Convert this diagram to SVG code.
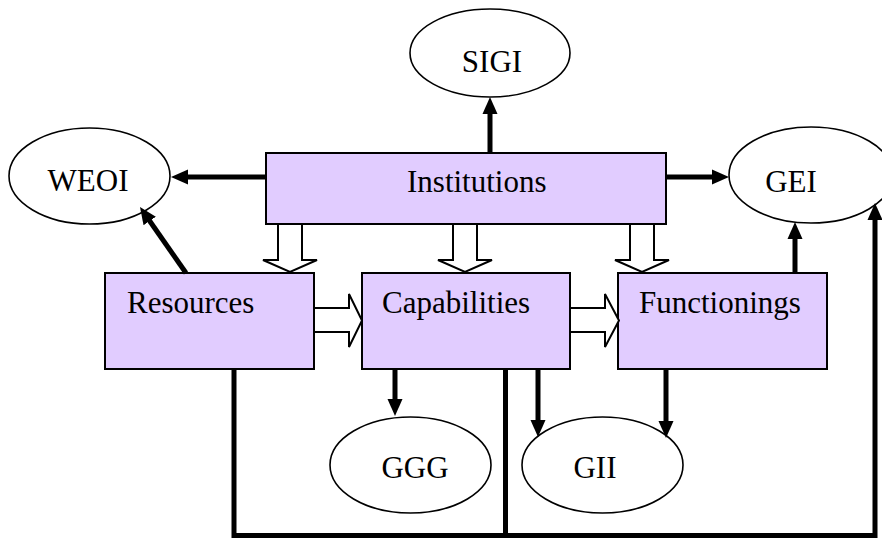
<svg xmlns="http://www.w3.org/2000/svg" width="882" height="539" viewBox="0 0 882 539">
<style>
.box{fill:#e1ccff;stroke:#000;stroke-width:2}
.ell{fill:#fff;stroke:#000;stroke-width:1.6}
.lbl{font-family:"Liberation Serif","Times New Roman",serif;font-size:31px;fill:#000}
.mid{text-anchor:middle}
.thick{fill:none;stroke:#000;stroke-width:5}
.hollow{fill:#fff;stroke:#000;stroke-width:2;stroke-linejoin:miter}
</style>
<defs>
<marker id="ah" markerUnits="userSpaceOnUse" markerWidth="18" markerHeight="16" refX="7" refY="7.5" orient="auto" viewBox="0 0 18 15">
<path d="M0,0 L17,7.5 L0,15 z" fill="#000"/>
</marker>
</defs>
<g id="node-sigi"><ellipse class="ell" cx="490" cy="53" rx="80" ry="44"/><text class="lbl mid" x="492" y="72">SIGI</text></g>
<g id="node-weoi"><ellipse class="ell" cx="89.5" cy="176" rx="80.5" ry="48"/><text class="lbl mid" x="88" y="191">WEOI</text></g>
<g id="node-gei"><ellipse class="ell" cx="811" cy="175" rx="82" ry="48"/><text class="lbl mid" x="791" y="192">GEI</text></g>
<g id="node-ggg"><ellipse class="ell" cx="410.5" cy="465" rx="80.5" ry="48"/><text class="lbl mid" x="415" y="478">GGG</text></g>
<g id="node-gii"><ellipse class="ell" cx="602.5" cy="465" rx="80.5" ry="48"/><text class="lbl mid" x="595" y="478">GII</text></g>
<g id="node-institutions"><rect class="box" x="266" y="153" width="400" height="71"/><text class="lbl" x="407" y="192">Institutions</text></g>
<g id="node-resources"><rect class="box" x="105" y="273" width="209" height="96"/><text class="lbl" x="127" y="313">Resources</text></g>
<g id="node-capabilities"><rect class="box" x="362" y="273" width="208" height="96"/><text class="lbl" x="382" y="313">Capabilities</text></g>
<g id="node-functionings"><rect class="box" x="618" y="273" width="209" height="96"/><text class="lbl" x="639" y="313">Functionings</text></g>
<g id="connectors">
<polygon class="hollow" points="278,224 278,260 263,260 290,272 317,260 302,260 302,224"/>
<polygon class="hollow" points="453,224 453,260 438,260 465,272 492,260 477,260 477,224"/>
<polygon class="hollow" points="630,224 630,260 615,260 642,272 669,260 654,260 654,224"/>
<polygon class="hollow" points="314,308 349,308 349,294 362,320.5 349,347 349,332 314,332"/>
<polygon class="hollow" points="570,308 605,308 605,294 619,320.5 605,347 605,332 570,332"/>
<line class="thick" x1="490" y1="153" x2="490" y2="107" marker-end="url(#ah)"/>
<line class="thick" x1="266" y1="177" x2="181" y2="177" marker-end="url(#ah)"/>
<line class="thick" x1="666" y1="177" x2="719" y2="177" marker-end="url(#ah)"/>
<line class="thick" x1="795" y1="273" x2="795" y2="232" marker-end="url(#ah)"/>
<line class="thick" x1="186" y1="273" x2="145.7" y2="215.2" marker-end="url(#ah)"/>
<line class="thick" x1="395" y1="369" x2="395" y2="406" marker-end="url(#ah)"/>
<line class="thick" x1="538" y1="369" x2="538" y2="427" marker-end="url(#ah)"/>
<line class="thick" x1="666" y1="369" x2="666" y2="428" marker-end="url(#ah)"/>
<polyline class="thick" points="234,369 234,535.5 875,535.5 875,213" marker-end="url(#ah)"/>
<line class="thick" x1="505.5" y1="369" x2="505.5" y2="535.5"/>
</g>
</svg>
